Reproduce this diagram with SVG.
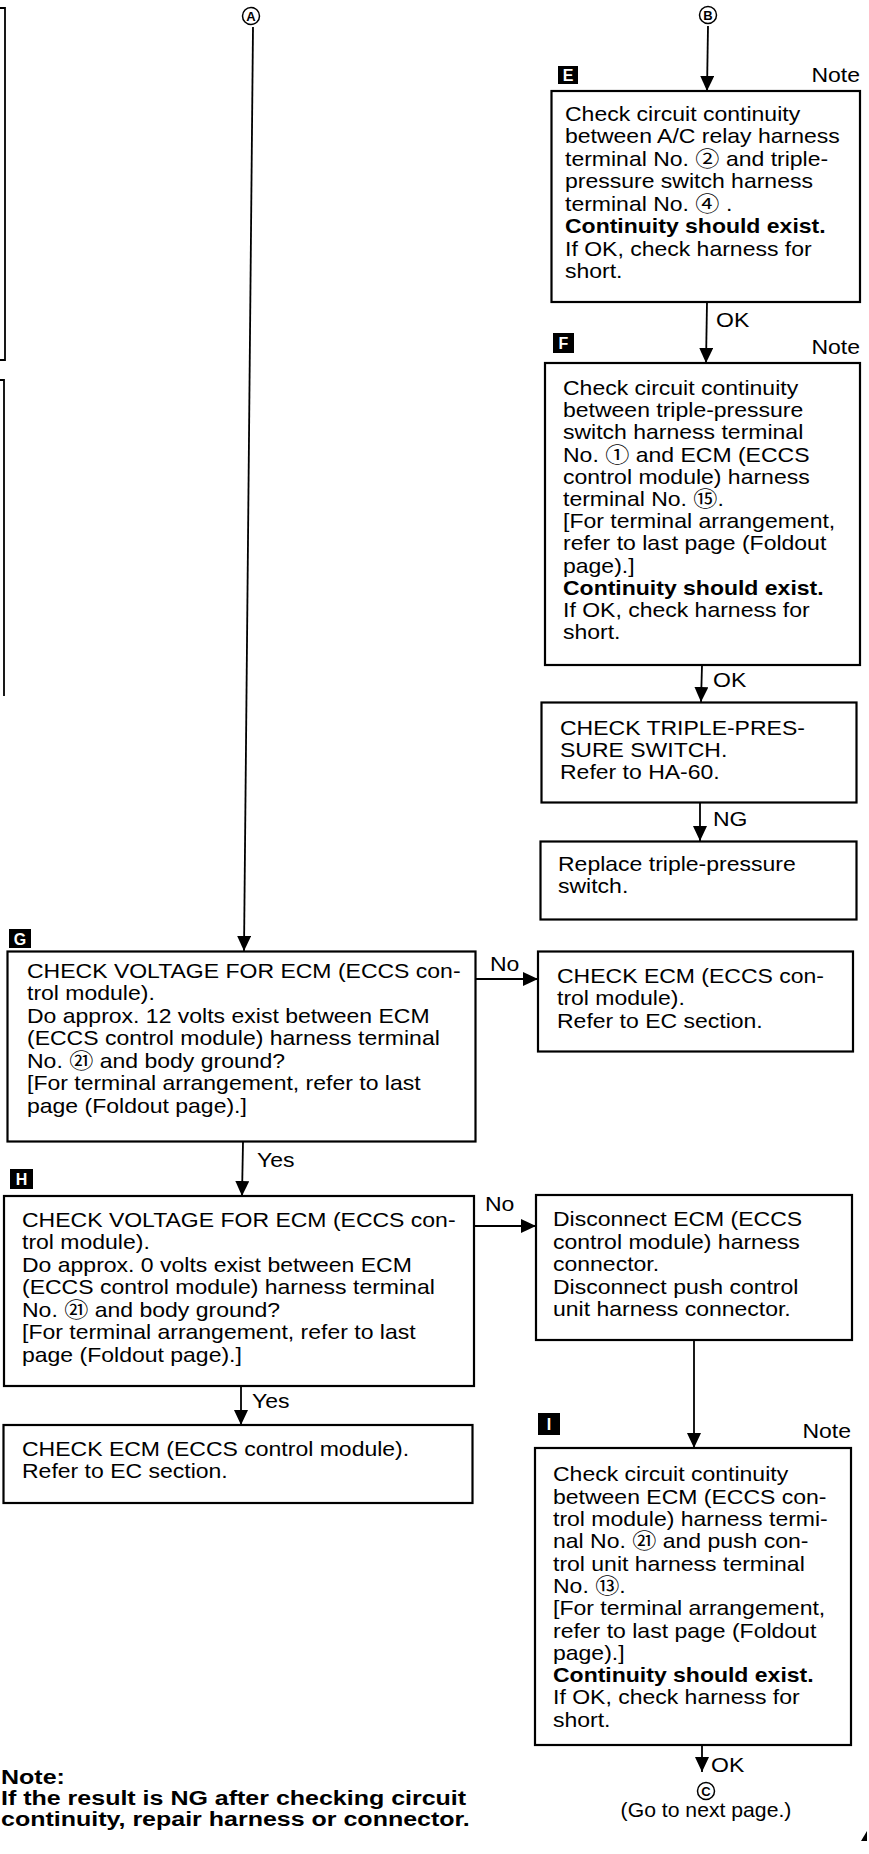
<svg xmlns="http://www.w3.org/2000/svg" width="869" height="1854" viewBox="0 0 869 1854">
<style>
  .box{fill:#fff;stroke:#000;stroke-width:2.2}
  .ln{stroke:#000;stroke-width:1.8;fill:none}
  .t{font-family:"Liberation Sans",Arial,"Noto Sans CJK JP",sans-serif;font-size:20px;fill:#000}
  .b{font-weight:bold}
  .c{font-size:21px}
  .badge{fill:#000}
  .bt{font-family:"Liberation Sans",Arial,sans-serif;font-size:16px;font-weight:bold;fill:#fff;text-anchor:middle}
  .circ{fill:#fff;stroke:#000;stroke-width:1.5}
  .ct{font-family:"Liberation Sans",Arial,sans-serif;font-size:13px;font-weight:bold;fill:#000;text-anchor:middle}
</style>
<defs>
  <marker id="ah" markerUnits="userSpaceOnUse" markerWidth="16" markerHeight="14" refX="15" refY="7" orient="auto" viewBox="0 0 16 14">
    <path d="M0,0 L15,7 L0,14 Z" fill="#000"/>
  </marker>
</defs>
<rect width="869" height="1854" fill="#fff"/>

<!-- partial boxes at left edge -->
<g id="leftEdge">
  <path class="ln" d="M0,8 H5 V360 H0" stroke-width="2.2"/>
  <path class="ln" d="M0,380 H4 V696" stroke-width="2.2"/>
</g>

<!-- connectors -->
<g id="connectors">
  <line class="ln" x1="253" y1="27" x2="244" y2="951" marker-end="url(#ah)"/>
  <line class="ln" x1="708" y1="26" x2="707" y2="91" marker-end="url(#ah)"/>
  <line class="ln" x1="707" y1="302" x2="706" y2="363" marker-end="url(#ah)"/>
  <line class="ln" x1="702" y1="665" x2="701" y2="702" marker-end="url(#ah)"/>
  <line class="ln" x1="700" y1="803" x2="700" y2="841" marker-end="url(#ah)"/>
  <line class="ln" x1="243" y1="1142" x2="242" y2="1196" marker-end="url(#ah)"/>
  <line class="ln" x1="241" y1="1386" x2="241" y2="1425" marker-end="url(#ah)"/>
  <line class="ln" x1="475" y1="979" x2="538" y2="979" marker-end="url(#ah)"/>
  <line class="ln" x1="474" y1="1226" x2="536" y2="1226" marker-end="url(#ah)"/>
  <line class="ln" x1="694" y1="1340" x2="694" y2="1448" marker-end="url(#ah)"/>
  <line class="ln" x1="702" y1="1745" x2="702" y2="1772" marker-end="url(#ah)"/>
  <g transform="translate(716 0) scale(1.15 1)"><text class="t" x="0" y="327">OK</text></g>
  <g transform="translate(713 0) scale(1.15 1)"><text class="t" x="0" y="687">OK</text></g>
  <g transform="translate(713 0) scale(1.15 1)"><text class="t" x="0" y="826">NG</text></g>
  <g transform="translate(490 0) scale(1.15 1)"><text class="t" x="0" y="971">No</text></g>
  <g transform="translate(485 0) scale(1.15 1)"><text class="t" x="0" y="1211">No</text></g>
  <g transform="translate(257 0) scale(1.15 1)"><text class="t" x="0" y="1167">Yes</text></g>
  <g transform="translate(252 0) scale(1.15 1)"><text class="t" x="0" y="1408">Yes</text></g>
  <g transform="translate(711 0) scale(1.15 1)"><text class="t" x="0" y="1772">OK</text></g>
</g>

<!-- off-page connectors -->
<g id="connA">
  <circle class="circ" cx="251" cy="16" r="8.5"/>
  <text class="ct" x="251" y="20.5">A</text>
</g>
<g id="connB">
  <circle class="circ" cx="708" cy="15" r="8.5"/>
  <text class="ct" x="708" y="19.5">B</text>
</g>
<g id="connC">
  <circle class="circ" cx="706" cy="1791" r="8.5"/>
  <text class="ct" x="706" y="1795.5">C</text>
  <g transform="translate(706 0) scale(1.06 1)"><text class="t" x="0" y="1817" text-anchor="middle">(Go to next page.)</text></g>
</g>

<!-- E -->
<g id="nodeE">
  <rect class="badge" x="558" y="66" width="20" height="18"/>
  <text class="bt" x="568" y="81">E</text>
  <g transform="translate(860 0) scale(1.15 1)"><text class="t" x="0" y="82" text-anchor="end">Note</text></g>
  <rect class="box" x="551.5" y="91" width="308.5" height="211"/>
  <g transform="translate(565 0) scale(1.15 1)"><text class="t">
    <tspan x="0" y="120.7">Check circuit continuity</tspan>
    <tspan x="0" y="143.2">between A/C relay harness</tspan>
    <tspan x="0" y="165.7">terminal No. <tspan class="c">②</tspan>  and triple-</tspan>
    <tspan x="0" y="188.2">pressure switch harness</tspan>
    <tspan x="0" y="210.7">terminal No. <tspan class="c">④</tspan> .</tspan>
    <tspan x="0" y="233.2" class="b">Continuity should exist.</tspan>
    <tspan x="0" y="255.7">If OK, check harness for</tspan>
    <tspan x="0" y="278.2">short.</tspan>
  </text></g>
</g>

<!-- F -->
<g id="nodeF">
  <rect class="badge" x="553" y="333" width="21" height="20"/>
  <text class="bt" x="563.5" y="349">F</text>
  <g transform="translate(860 0) scale(1.15 1)"><text class="t" x="0" y="354" text-anchor="end">Note</text></g>
  <rect class="box" x="545" y="363" width="315" height="302"/>
  <g transform="translate(563 0) scale(1.15 1)"><text class="t">
    <tspan x="0" y="395">Check circuit continuity</tspan>
    <tspan x="0" y="417.2">between triple-pressure</tspan>
    <tspan x="0" y="439.4">switch harness terminal</tspan>
    <tspan x="0" y="461.6">No. <tspan class="c">①</tspan>  and ECM (ECCS</tspan>
    <tspan x="0" y="483.8">control module) harness</tspan>
    <tspan x="0" y="506">terminal No. <tspan class="c">⑮</tspan>.</tspan>
    <tspan x="0" y="528.2">[For terminal arrangement,</tspan>
    <tspan x="0" y="550.4">refer to last page (Foldout</tspan>
    <tspan x="0" y="572.6">page).]</tspan>
    <tspan x="0" y="594.8" class="b">Continuity should exist.</tspan>
    <tspan x="0" y="617">If OK, check harness for</tspan>
    <tspan x="0" y="639.2">short.</tspan>
  </text></g>
</g>

<!-- Check triple-pressure switch -->
<g id="nodeTriple">
  <rect class="box" x="541.5" y="702.5" width="315" height="100"/>
  <g transform="translate(560 0) scale(1.15 1)"><text class="t">
    <tspan x="0" y="735">CHECK TRIPLE-PRES-</tspan>
    <tspan x="0" y="757">SURE SWITCH.</tspan>
    <tspan x="0" y="779">Refer to HA-60.</tspan>
  </text></g>
</g>

<!-- Replace -->
<g id="nodeReplace">
  <rect class="box" x="540.5" y="841.5" width="316" height="78"/>
  <g transform="translate(558 0) scale(1.15 1)"><text class="t">
    <tspan x="0" y="871.5">Replace triple-pressure</tspan>
    <tspan x="0" y="893.5">switch.</tspan>
  </text></g>
</g>

<!-- G -->
<g id="nodeG">
  <rect class="badge" x="9" y="929" width="22" height="19"/>
  <text class="bt" x="20" y="945">G</text>
  <rect class="box" x="7.5" y="951.5" width="468" height="190"/>
  <g transform="translate(27 0) scale(1.15 1)"><text class="t">
    <tspan x="0" y="978">CHECK VOLTAGE FOR ECM (ECCS con-</tspan>
    <tspan x="0" y="1000.5">trol module).</tspan>
    <tspan x="0" y="1023">Do approx. 12 volts exist between ECM</tspan>
    <tspan x="0" y="1045.5">(ECCS control module) harness terminal</tspan>
    <tspan x="0" y="1068">No. <tspan class="c">㉑</tspan> and body ground?</tspan>
    <tspan x="0" y="1090.5">[For terminal arrangement, refer to last</tspan>
    <tspan x="0" y="1113">page (Foldout page).]</tspan>
  </text></g>
</g>

<!-- Check ECM (right) -->
<g id="nodeEcmRight">
  <rect class="box" x="538" y="951.5" width="315" height="100"/>
  <g transform="translate(557 0) scale(1.15 1)"><text class="t">
    <tspan x="0" y="983">CHECK ECM (ECCS con-</tspan>
    <tspan x="0" y="1005.5">trol module).</tspan>
    <tspan x="0" y="1028">Refer to EC section.</tspan>
  </text></g>
</g>

<!-- H -->
<g id="nodeH">
  <rect class="badge" x="10" y="1169" width="23" height="20"/>
  <text class="bt" x="21.5" y="1185">H</text>
  <rect class="box" x="4" y="1196" width="470" height="190"/>
  <g transform="translate(22 0) scale(1.15 1)"><text class="t">
    <tspan x="0" y="1227">CHECK VOLTAGE FOR ECM (ECCS con-</tspan>
    <tspan x="0" y="1249.5">trol module).</tspan>
    <tspan x="0" y="1272">Do approx. 0 volts exist between ECM</tspan>
    <tspan x="0" y="1294.5">(ECCS control module) harness terminal</tspan>
    <tspan x="0" y="1317">No. <tspan class="c">㉑</tspan> and body ground?</tspan>
    <tspan x="0" y="1339.5">[For terminal arrangement, refer to last</tspan>
    <tspan x="0" y="1362">page (Foldout page).]</tspan>
  </text></g>
</g>

<!-- Check ECM (bottom left) -->
<g id="nodeEcmLeft">
  <rect class="box" x="3.5" y="1425" width="469" height="78"/>
  <g transform="translate(22 0) scale(1.15 1)"><text class="t">
    <tspan x="0" y="1456.5">CHECK ECM (ECCS control module).</tspan>
    <tspan x="0" y="1478.5">Refer to EC section.</tspan>
  </text></g>
</g>

<!-- Disconnect -->
<g id="nodeDisconnect">
  <rect class="box" x="536" y="1195" width="316" height="145"/>
  <g transform="translate(553 0) scale(1.15 1)"><text class="t">
    <tspan x="0" y="1226.5">Disconnect ECM (ECCS</tspan>
    <tspan x="0" y="1249">control module) harness</tspan>
    <tspan x="0" y="1271.5">connector.</tspan>
    <tspan x="0" y="1294">Disconnect push control</tspan>
    <tspan x="0" y="1316.5">unit harness connector.</tspan>
  </text></g>
</g>

<!-- I -->
<g id="nodeI">
  <rect class="badge" x="538" y="1413" width="22" height="22"/>
  <text class="bt" x="549" y="1430">I</text>
  <g transform="translate(851 0) scale(1.15 1)"><text class="t" x="0" y="1438" text-anchor="end">Note</text></g>
  <rect class="box" x="535" y="1448" width="316" height="297"/>
  <g transform="translate(553 0) scale(1.15 1)"><text class="t">
    <tspan x="0" y="1481.5">Check circuit continuity</tspan>
    <tspan x="0" y="1503.8">between ECM (ECCS con-</tspan>
    <tspan x="0" y="1526.1">trol module) harness termi-</tspan>
    <tspan x="0" y="1548.4">nal No. <tspan class="c">㉑</tspan> and push con-</tspan>
    <tspan x="0" y="1570.7">trol unit harness terminal</tspan>
    <tspan x="0" y="1593">No. <tspan class="c">⑬</tspan>.</tspan>
    <tspan x="0" y="1615.3">[For terminal arrangement,</tspan>
    <tspan x="0" y="1637.6">refer to last page (Foldout</tspan>
    <tspan x="0" y="1659.9">page).]</tspan>
    <tspan x="0" y="1682.2" class="b">Continuity should exist.</tspan>
    <tspan x="0" y="1704.5">If OK, check harness for</tspan>
    <tspan x="0" y="1726.8">short.</tspan>
  </text></g>
</g>

<!-- footnote -->
<g id="footnote">
  <g transform="translate(1 0) scale(1.25 1)"><text class="t b">
    <tspan x="0" y="1784">Note:</tspan>
    <tspan x="0" y="1805">If the result is NG after checking circuit</tspan>
    <tspan x="0" y="1826">continuity, repair harness or connector.</tspan>
  </text></g>
  <polygon points="861,1841 867,1831 867,1841" fill="#000"/>
</g>
</svg>
